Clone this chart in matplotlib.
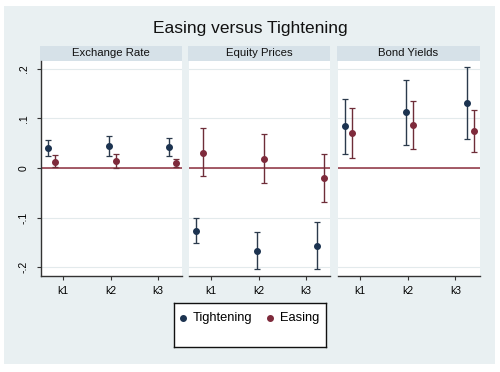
import matplotlib
matplotlib.use("Agg")
import matplotlib.pyplot as plt
from matplotlib.patches import Rectangle
import numpy as np

plt.rcParams['font.family'] = ['Liberation Sans', 'DejaVu Sans']

# data: point estimates and confidence bounds per panel
panels = ['Exchange Rate', 'Equity Prices', 'Bond Yields']
horizons = ['k1', 'k2', 'k3']

tight_est = [[0.041, 0.044, 0.042], [-0.127, -0.167, -0.157], [0.084, 0.113, 0.131]]
tight_lo = [[0.024, 0.025, 0.025], [-0.152, -0.203, -0.203], [0.028, 0.046, 0.059]]
tight_hi = [[0.057, 0.064, 0.060], [-0.100, -0.130, -0.110], [0.139, 0.178, 0.203]]

ease_est = [[0.013, 0.0135, 0.010], [0.031, 0.019, -0.021], [0.071, 0.0875, 0.075]]
ease_lo = [[0.003, 0.001, 0.002], [-0.016, -0.031, -0.069], [0.020, 0.038, 0.032]]
ease_hi = [[0.026, 0.028, 0.019], [0.081, 0.069, 0.028], [0.122, 0.136, 0.117]]

yticks = [-0.2, -0.1, 0, 0.1, 0.2]
ylabels = ['-.2', '-.1', '0', '.1', '.2']

TIGHT = '#1c3350'
EASE = '#7e2a3b'
BG = '#e9f0f2'
HEAD = '#d6e1e8'
GRID = '#e3eaec'

W, H = 500, 372
fig = plt.figure(figsize=(W / 100, H / 100), dpi=100, facecolor='white')

def px(x0, y0, x1, y1):
    return [x0 / W, 1 - y1 / H, (x1 - x0) / W, (y1 - y0) / H]

# outer light background
fig.patches.append(Rectangle((4 / W, 1 - 364 / H), 491 / W, 358 / H,
                             transform=fig.transFigure, facecolor=BG,
                             edgecolor='none', zorder=-10))

fig.text(250 / W, 1 - 29 / H, 'Easing versus Tightening', ha='center', va='center',
         fontsize=12.5, color='#111111')

lefts = [(41, 182), (189, 330), (338, 480)]
x = np.arange(3)
off = 0.116

for i, (x0, x1) in enumerate(lefts):
    # panel header strip
    hdr = fig.add_axes(px(x0 - 1, 46, x1, 61))
    hdr.set_facecolor(HEAD)
    hdr.set_xticks([])
    hdr.set_yticks([])
    for s in hdr.spines.values():
        s.set_visible(False)
    hdr.text(0.5, 0.5, panels[i], ha='center', va='center', fontsize=8.2,
             transform=hdr.transAxes, color='#111111')

    ax = fig.add_axes(px(x0, 61, x1, 276))
    ax.set_facecolor('white')
    ax.set_xlim(-0.116, 2.215)
    ax.set_ylim(-0.218, 0.216)
    ax.set_yticks(yticks)
    ax.grid(axis='y', color=GRID, lw=0.8)
    ax.set_axisbelow(True)
    ax.axhline(0, color='#8e2f3e', lw=1.1, zorder=1)

    ax.errorbar(x, tight_est[i],
                yerr=[np.subtract(tight_est[i], tight_lo[i]), np.subtract(tight_hi[i], tight_est[i])],
                fmt='o', color=TIGHT, ecolor='#2b3a4c', ms=4.0, elinewidth=1.0,
                capsize=2.5, capthick=0.9, zorder=3)
    ax.errorbar(x + off, ease_est[i],
                yerr=[np.subtract(ease_est[i], ease_lo[i]), np.subtract(ease_hi[i], ease_est[i])],
                fmt='o', color=EASE, ecolor='#6e2d38', ms=4.0, elinewidth=1.0,
                capsize=2.5, capthick=0.9, zorder=3)

    ax.set_xticks([0.248, 1.033, 1.810])
    ax.set_xticklabels(horizons, fontsize=7.5)
    ax.tick_params(axis='x', length=3, width=0.8, color='#333333', pad=4)
    for s in ['top', 'right']:
        ax.spines[s].set_visible(False)
    ax.spines['bottom'].set_color('#333333')
    ax.spines['bottom'].set_linewidth(1.0)
    if i == 0:
        ax.spines['left'].set_color('#333333')
        ax.spines['left'].set_linewidth(1.0)
        ax.set_yticklabels(ylabels, fontsize=7.5, rotation=90, va='center')
        ax.tick_params(axis='y', length=3, width=0.8, color='#333333', pad=6)
    else:
        ax.spines['left'].set_visible(False)
        ax.tick_params(axis='y', length=0, labelleft=False)

# legend box
lg = fig.add_axes(px(174, 303, 326, 347))
lg.set_facecolor('white')
lg.set_xlim(0, 152)
lg.set_ylim(44, 0)
lg.set_xticks([])
lg.set_yticks([])
for s in lg.spines.values():
    s.set_color('#111111')
    s.set_linewidth(1.0)
lg.plot([9], [15], 'o', color=TIGHT, ms=4)
lg.text(19, 15, 'Tightening', va='center', fontsize=9.3)
lg.plot([96], [15], 'o', color=EASE, ms=4)
lg.text(106, 15, 'Easing', va='center', fontsize=9.3)

fig.savefig('out.png', dpi=100, facecolor='white')
